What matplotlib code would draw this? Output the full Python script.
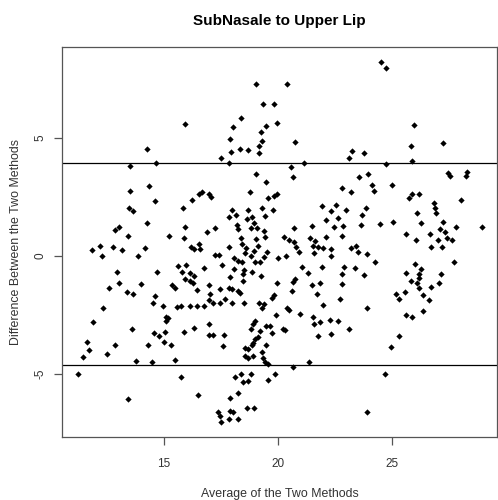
import matplotlib
matplotlib.use("Agg")
import matplotlib.pyplot as plt
import numpy as np

plt.rcParams['font.family'] = ['Liberation Sans', 'DejaVu Sans']

# average of the two methods / difference between them
avg = [
    15.94, 14.25, 14.66, 13.52,
    19.06, 20.41, 19.36, 19.84, 18.36, 18.04, 19.46, 19.97, 19.25, 17.91, 19.31,
    20.77, 19.18, 18.33, 17.95, 18.67, 19.18, 17.49, 17.84, 21.14, 20.56, 19.06,
    24.53, 24.72, 25.98, 25.83, 27.22, 23.26, 23.11, 23.77, 25.88, 24.75, 23.96,
    27.46, 28.29,
    13.52, 14.36, 14.59, 13.45, 13.65, 14.27, 13.04, 12.84, 13.42, 15.23, 15.88,
    15.94, 15.85, 16.23, 16.56, 16.67, 11.84, 12.21, 12.28, 12.76, 13.16, 14.15,
    13.86, 16.20, 16.34, 16.52, 16.59, 16.77, 15.61, 15.96, 15.79, 16.13, 16.30,
    15.93, 16.14, 12.94, 14.69, 13.01, 13.98, 15.35, 15.50, 16.27, 16.45, 12.57,
    13.38, 13.63, 14.59, 14.50,
    19.47, 20.67, 18.77, 19.58, 19.82, 19.94, 16.97, 17.06, 22.79, 21.92, 22.57,
    22.32, 22.97, 22.11, 22.62, 22.47, 22.87, 22.82, 21.48, 20.72, 17.97, 17.85,
    18.16, 18.70, 19.31, 19.79, 19.43, 18.63, 18.85, 18.96, 18.84, 19.09, 18.19,
    18.26, 17.24, 16.91, 19.40, 19.43, 18.36, 18.41, 19.06, 19.14, 17.85, 18.58,
    18.55, 18.80, 18.96, 19.50, 19.40, 20.26, 20.48, 20.72, 20.78, 21.40, 21.62,
    21.55, 21.74, 21.99, 22.09, 22.32, 22.35, 21.59, 20.92, 20.34, 19.99, 17.24,
    17.41, 18.08, 18.23, 18.41, 18.99, 19.21, 17.56, 18.52, 18.85, 18.48, 18.08,
    21.04, 21.33, 21.94, 22.79, 22.91, 17.89, 19.28, 18.45, 20.75, 20.67, 20.60,
    19.98, 16.97, 17.46, 17.85, 17.99, 18.26, 18.33, 21.48, 21.84, 21.70, 22.79,
    22.72, 17.02, 16.97, 17.16, 17.46, 17.70, 17.97, 18.52, 19.17, 19.40, 19.72,
    19.84,
    23.54, 27.56, 28.23, 24.12, 24.21, 23.19, 25.01, 25.88, 26.17, 25.73, 28.04,
    26.83, 26.90, 26.93, 23.87, 23.70, 26.11, 23.65, 24.49, 25.04, 26.29, 27.24,
    27.82, 28.96, 27.09, 27.35, 25.63, 26.65, 26.04, 27.02, 27.41, 27.63, 26.73,
    27.21, 23.22, 23.44, 23.51, 23.90, 24.28, 23.36, 23.77, 26.02, 27.72, 26.29,
    26.21, 26.17, 26.11, 26.17, 25.63, 27.14, 25.82, 27.06, 26.70, 26.36, 25.58,
    25.19, 25.29, 26.61,
    12.32, 14.96, 15.57, 15.76, 16.13, 16.45, 16.78, 11.89, 15.09, 15.20, 15.09,
    13.61, 14.55, 14.80, 15.06, 15.89, 16.34, 11.61, 11.72, 12.84, 14.30, 15.00,
    15.32, 12.50, 11.45, 13.77, 14.47, 15.47, 11.21, 15.75, 16.51, 13.41,
    19.31, 20.38, 20.48, 21.99, 19.91, 20.99, 21.55, 21.58, 21.84, 22.28, 22.65,
    16.99, 16.97, 17.16, 17.65, 17.60, 18.99, 18.92, 18.82, 19.47, 19.65, 19.21,
    19.72, 20.23, 20.31, 21.74, 22.35, 19.14, 18.99, 18.92, 18.85, 18.55, 18.70,
    19.47, 19.31, 18.92, 18.55, 18.70, 19.36, 19.43, 19.55, 20.67, 21.36, 18.11,
    18.36, 18.82, 18.45, 18.70, 19.87, 19.58, 18.26, 17.89, 17.38, 17.46, 17.50,
    17.89, 18.04, 17.87, 18.23, 18.63, 18.95,
    23.90, 25.63, 25.88, 26.36, 23.11, 25.31, 24.97, 24.71, 23.92,
]
diff = [
    5.58, 4.53, 3.93, 3.83,
    7.29, 7.29, 6.43, 6.43, 5.83, 5.48, 5.51, 5.62, 5.24, 4.97, 4.87,
    4.83, 4.66, 4.55, 4.42, 4.48, 4.36, 4.14, 3.94, 3.93, 3.76, 3.46,
    8.23, 7.98, 5.54, 4.65, 4.77, 4.45, 4.17, 4.36, 4.02, 3.88, 3.49,
    3.50, 3.57,
    2.77, 2.98, 2.34, 2.02, 1.93, 1.38, 1.24, 1.10, 0.85, 0.85, 0.75,
    1.24, 2.02, 2.37, 2.63, 2.70, 0.24, 0.42, 0.01, 0.39, 0.27, 0.34,
    0.00, 0.39, 0.29, 0.51, 0.29, -0.50, -0.41, -0.38, -0.67, -0.74, -0.84,
    -0.98, -1.06, -0.67, -0.69, -1.16, -1.19, -1.23, -1.37, -1.16, -1.44, -1.36,
    -1.51, -1.63, -1.70, -1.97,
    3.15, 3.36, 2.72, 2.47, 2.55, 2.61, 2.62, 2.50, 2.87, 2.13, 2.16,
    1.93, 1.96, 1.52, 1.62, 1.24, 1.28, 0.86, 1.28, 1.17, 1.95, 1.65,
    1.73, 1.95, 2.02, 1.95, 1.71, 1.59, 1.67, 1.38, 1.17, 1.20, 1.31,
    1.14, 1.17, 1.00, 1.06, 0.82, 0.77, 0.49, 0.72, 0.44, 0.39, 0.35,
    0.11, 0.01, 0.21, 0.15, -0.03, 0.82, 0.68, 0.61, 0.39, 0.77, 0.63,
    0.42, 0.39, 0.35, 0.82, 0.29, 0.01, 0.11, 0.15, 0.01, -0.07, 0.04,
    0.04, -0.10, -0.19, -0.27, -0.27, -0.24, -0.38, -0.60, -0.69, -0.76, -0.55,
    -0.45, -0.74, -0.45, -0.78, -0.45, -0.88, -0.84, -1.06, -0.99, -1.12, -1.49,
    -1.16, -1.23, -1.40, -1.34, -1.40, -1.49, -1.58, -1.23, -1.16, -1.63, -1.20,
    -1.80, -1.61, -1.87, -2.01, -2.01, -1.82, -1.97, -2.01, -1.98, -2.04, -1.77,
    -1.65,
    3.36, 3.39, 3.40, 3.03, 2.75, 2.72, 3.03, 2.65, 2.65, 2.44, 2.37,
    2.26, 2.05, 1.81, 2.02, 1.76, 1.83, 1.31, 1.35, 1.45, 1.42, 1.45,
    1.24, 1.24, 1.14, 1.03, 0.92, 0.92, 0.68, 0.68, 0.77, 0.70, 0.39,
    0.37, 0.35, 0.44, 0.18, 0.08, -0.27, -0.50, -0.81, -0.33, -0.27, -0.53,
    -0.75, -0.95, -1.16, -1.37, -0.74, -0.78, -1.06, -1.13, -1.30, -1.65, -1.54,
    -1.63, -1.82, -1.87,
    -2.19, -2.12, -2.18, -2.12, -2.12, -2.12, -2.12, -2.79, -2.60, -2.62, -2.74,
    -3.10, -3.28, -3.39, -3.21, -3.24, -3.03, -3.63, -4.00, -3.77, -3.77, -3.63,
    -3.75, -4.14, -4.28, -4.45, -4.48, -4.41, -4.99, -5.14, -5.87, -6.08,
    -2.22, -2.19, -2.28, -2.08, -2.50, -2.46, -2.60, -2.89, -2.79, -2.72, -2.74,
    -2.89, -3.35, -3.35, -3.35, -3.80, -2.74, -2.86, -3.11, -2.96, -2.96, -3.18,
    -3.28, -3.11, -3.15, -3.38, -3.31, -3.42, -3.53, -3.70, -3.75, -3.89, -3.94,
    -3.75, -4.06, -4.23, -4.23, -4.34, -4.31, -4.51, -4.59, -4.69, -4.48, -5.12,
    -5.02, -5.00, -5.33, -5.30, -4.98, -5.26, -5.82, -6.03, -6.60, -6.77, -7.05,
    -6.57, -6.60, -6.91, -6.91, -6.43, -6.46,
    -2.22, -2.48, -2.60, -2.33, -3.10, -3.39, -3.85, -4.98, -6.63,
]

upper_loa = 3.94
lower_loa = -4.62

fig = plt.figure(figsize=(4.98, 5.0), dpi=100)
ax = fig.add_axes([62 / 498, 63 / 500, 435 / 498, 390 / 500])

ax.plot(avg, diff, linestyle='none', marker='D', markersize=3.2,
        color='black', markeredgewidth=0)
ax.axhline(upper_loa, color='black', linewidth=0.9)
ax.axhline(lower_loa, color='black', linewidth=0.9)

ax.set_xlim(10.53, 29.61)
ax.set_ylim(-7.67, 8.86)
ax.set_xticks([15, 20, 25])
ax.set_yticks([-5, 0, 5])
ax.set_yticklabels(['-5', '0', '5'], rotation=90, va='center')

for sp in ax.spines.values():
    sp.set_color('#555555')
    sp.set_linewidth(0.9)
ax.tick_params(direction='out', length=6, width=0.9, color='#555555',
               labelsize=8.5, labelcolor='#333333')
ax.tick_params(axis='x', pad=9)
ax.tick_params(axis='y', pad=5)

ax.set_title('SubNasale to Upper Lip', fontsize=11, fontweight='bold', pad=16)
ax.set_xlabel('Average of the Two Methods', fontsize=8.9, color='#333333', labelpad=13)
ax.set_ylabel('Difference Between the Two Methods', fontsize=8.9, color='#333333', labelpad=9)

fig.savefig('out.png', dpi=100)
